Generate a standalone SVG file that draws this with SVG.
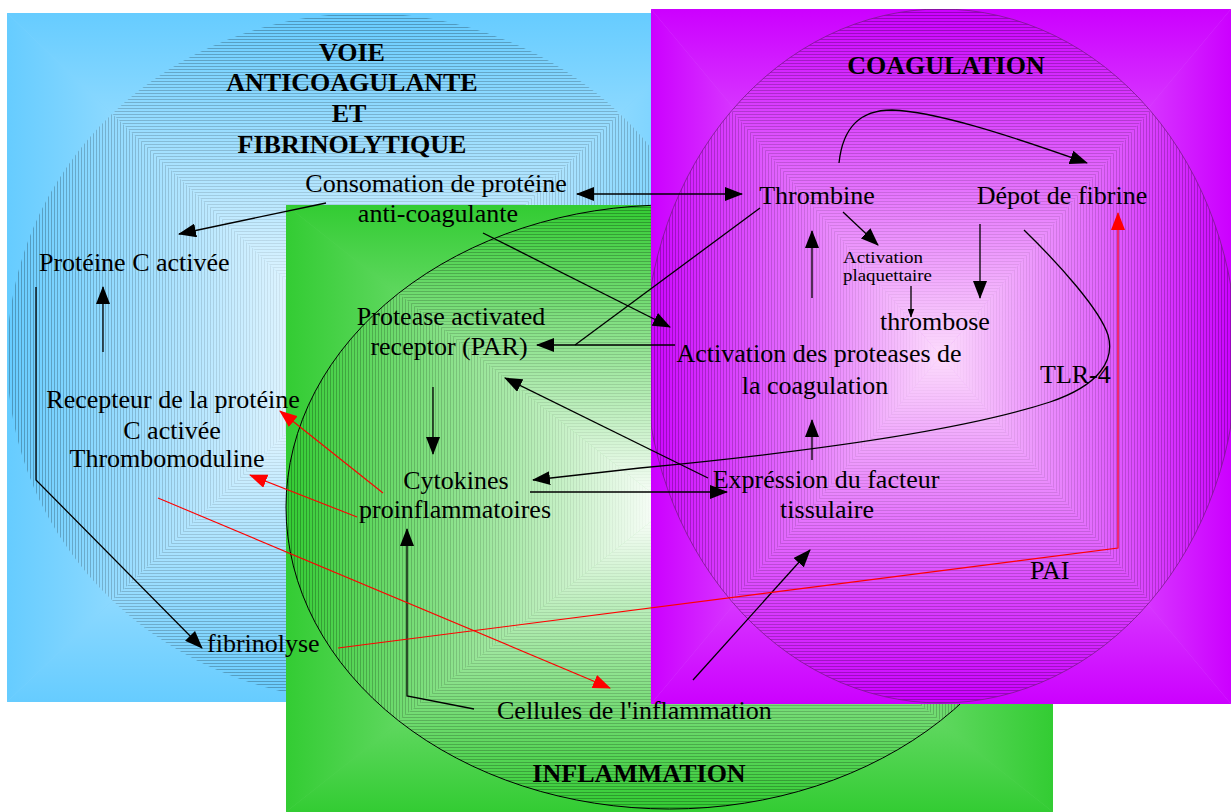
<svg xmlns="http://www.w3.org/2000/svg" width="1231" height="812" viewBox="0 0 1231 812">
<style>
text{font-family:"Liberation Serif","Times New Roman",serif;font-size:26px;fill:#000}
.t{font-weight:bold}
.c{text-anchor:middle}
.sm{font-size:16.5px}
.k{fill:none;stroke:#000;stroke-width:1.3}
.r{fill:none;stroke:#ff0000;stroke-width:1.1}
</style>
<defs>
<marker id="ab" markerUnits="userSpaceOnUse" markerWidth="18" markerHeight="14" viewBox="0 0 18 14" refX="17" refY="7" orient="auto-start-reverse"><path d="M0,0 L18,7 L0,14 Z" fill="#000"/></marker>
<marker id="ar" markerUnits="userSpaceOnUse" markerWidth="18" markerHeight="14" viewBox="0 0 18 14" refX="17" refY="7" orient="auto"><path d="M0,0 L18,7 L0,14 Z" fill="#ff0000"/></marker>
<marker id="as" markerUnits="userSpaceOnUse" markerWidth="9" markerHeight="7" viewBox="0 0 9 7" refX="8.5" refY="3.5" orient="auto"><path d="M0,0 L9,3.5 L0,7 Z" fill="#000"/></marker>

<linearGradient id="bRV" x1="0" y1="0" x2="0" y2="1"><stop offset="0" stop-color="#66ccff"/><stop offset="0.5" stop-color="#e6f7ff"/><stop offset="1" stop-color="#66ccff"/></linearGradient>
<linearGradient id="bRH" x1="0" y1="0" x2="1" y2="0"><stop offset="0" stop-color="#66ccff"/><stop offset="0.5" stop-color="#e6f7ff"/><stop offset="1" stop-color="#66ccff"/></linearGradient>
<linearGradient id="bEV" x1="0" y1="0" x2="0" y2="1"><stop offset="0" stop-color="#66ccff"/><stop offset="0.5" stop-color="#ffffff"/><stop offset="1" stop-color="#66ccff"/></linearGradient>
<linearGradient id="bEH" x1="0" y1="0" x2="1" y2="0"><stop offset="0" stop-color="#66ccff"/><stop offset="0.5" stop-color="#ffffff"/><stop offset="1" stop-color="#66ccff"/></linearGradient>

<linearGradient id="gRV" x1="0" y1="0" x2="0" y2="1"><stop offset="0" stop-color="#33cc33"/><stop offset="0.5" stop-color="#c8f3c8"/><stop offset="1" stop-color="#33cc33"/></linearGradient>
<linearGradient id="gRH" x1="0" y1="0" x2="1" y2="0"><stop offset="0" stop-color="#33cc33"/><stop offset="0.5" stop-color="#c8f3c8"/><stop offset="1" stop-color="#33cc33"/></linearGradient>
<linearGradient id="gEV" x1="0" y1="0" x2="0" y2="1"><stop offset="0" stop-color="#33cc33"/><stop offset="0.5" stop-color="#ffffff"/><stop offset="1" stop-color="#33cc33"/></linearGradient>
<linearGradient id="gEH" x1="0" y1="0" x2="1" y2="0"><stop offset="0" stop-color="#33cc33"/><stop offset="0.5" stop-color="#ffffff"/><stop offset="1" stop-color="#33cc33"/></linearGradient>

<linearGradient id="mRV" x1="0" y1="0" x2="0" y2="1"><stop offset="0" stop-color="#cc00ff"/><stop offset="0.5" stop-color="#f2b8ff"/><stop offset="1" stop-color="#cc00ff"/></linearGradient>
<linearGradient id="mRH" x1="0" y1="0" x2="1" y2="0"><stop offset="0" stop-color="#cc00ff"/><stop offset="0.5" stop-color="#f2b8ff"/><stop offset="1" stop-color="#cc00ff"/></linearGradient>
<linearGradient id="mEV" x1="0" y1="0" x2="0" y2="1"><stop offset="0" stop-color="#cc00ff"/><stop offset="0.5" stop-color="#fcdcfc"/><stop offset="1" stop-color="#cc00ff"/></linearGradient>
<linearGradient id="mEH" x1="0" y1="0" x2="1" y2="0"><stop offset="0" stop-color="#cc00ff"/><stop offset="0.5" stop-color="#fcdcfc"/><stop offset="1" stop-color="#cc00ff"/></linearGradient>

<linearGradient id="kV" x1="0" y1="0" x2="0" y2="1"><stop offset="0" stop-color="#fff"/><stop offset="0.5" stop-color="#000"/><stop offset="1" stop-color="#fff"/></linearGradient>
<linearGradient id="kH" x1="0" y1="0" x2="1" y2="0"><stop offset="0" stop-color="#fff"/><stop offset="0.5" stop-color="#000"/><stop offset="1" stop-color="#fff"/></linearGradient>

<pattern id="hh" patternUnits="userSpaceOnUse" width="10" height="3"><rect width="10" height="1" fill="#000" opacity="0.26"/></pattern>
<pattern id="hv" patternUnits="userSpaceOnUse" width="3" height="10"><rect width="1" height="10" fill="#000" opacity="0.26"/></pattern>

<clipPath id="cBE"><ellipse cx="366" cy="357" rx="359" ry="344"/></clipPath>
<clipPath id="cGE"><ellipse cx="669.5" cy="507" rx="383.5" ry="302"/></clipPath>
<clipPath id="cME"><ellipse cx="941" cy="356" rx="296" ry="347"/></clipPath>
<clipPath id="cMR"><rect x="651" y="9" width="580" height="695"/></clipPath>

<mask id="mkB" maskUnits="userSpaceOnUse" x="0" y="0" width="1231" height="812">
<path d="M7,13 L725,13 L366,357 Z M7,701 L725,701 L366,357 Z" fill="url(#kV)"/>
<path d="M7,13 L7,701 L366,357 Z M725,13 L725,701 L366,357 Z" fill="url(#kH)"/>
</mask>
<mask id="mkG" maskUnits="userSpaceOnUse" x="0" y="0" width="1231" height="812">
<path d="M286,205 L1053,205 L669.5,507 Z M286,809 L1053,809 L669.5,507 Z" fill="url(#kV)"/>
<path d="M286,205 L286,809 L669.5,507 Z M1053,205 L1053,809 L669.5,507 Z" fill="url(#kH)"/>
</mask>
<mask id="mkM" maskUnits="userSpaceOnUse" x="0" y="0" width="1231" height="812">
<path d="M645,9 L1237,9 L941,356 Z M645,703 L1237,703 L941,356 Z" fill="url(#kV)"/>
<path d="M645,9 L645,703 L941,356 Z M1237,9 L1237,703 L941,356 Z" fill="url(#kH)"/>
</mask>
</defs>

<rect width="1231" height="812" fill="#ffffff"/>

<g id="region-anticoagulante">
<rect x="7" y="13" width="718" height="689" fill="#7fd3ff"/>
<path d="M7,13 L725,13 L366,357.5 Z M7,702 L725,702 L366,357.5 Z" fill="url(#bRV)"/>
<path d="M7,13 L7,702 L366,357.5 Z M725,13 L725,702 L366,357.5 Z" fill="url(#bRH)"/>
<g clip-path="url(#cBE)">
<path d="M7,13 L725,13 L366,357 Z M7,701 L725,701 L366,357 Z" fill="url(#bEV)"/>
<path d="M7,13 L7,701 L366,357 Z M725,13 L725,701 L366,357 Z" fill="url(#bEH)"/>
<g mask="url(#mkB)">
<path d="M7,13 L725,13 L366,357 Z M7,701 L725,701 L366,357 Z" fill="url(#hh)"/>
<path d="M7,13 L7,701 L366,357 Z M725,13 L725,701 L366,357 Z" fill="url(#hv)"/>
</g>
</g>
</g>

<g id="region-inflammation">
<rect x="286" y="205" width="767" height="607" fill="#55d455"/>
<path d="M286,205 L1053,205 L669.5,508.5 Z M286,812 L1053,812 L669.5,508.5 Z" fill="url(#gRV)"/>
<path d="M286,205 L286,812 L669.5,508.5 Z M1053,205 L1053,812 L669.5,508.5 Z" fill="url(#gRH)"/>
<g clip-path="url(#cGE)">
<path d="M286,205 L1053,205 L669.5,507 Z M286,809 L1053,809 L669.5,507 Z" fill="url(#gEV)"/>
<path d="M286,205 L286,809 L669.5,507 Z M1053,205 L1053,809 L669.5,507 Z" fill="url(#gEH)"/>
<g mask="url(#mkG)">
<path d="M286,205 L1053,205 L669.5,507 Z M286,809 L1053,809 L669.5,507 Z" fill="url(#hh)"/>
<path d="M286,205 L286,809 L669.5,507 Z M1053,205 L1053,809 L669.5,507 Z" fill="url(#hv)"/>
</g>
</g>
<ellipse cx="669.5" cy="507" rx="383.5" ry="302" fill="none" stroke="#000" stroke-width="1"/>
</g>

<g id="region-coagulation">
<rect x="651" y="9" width="580" height="695" fill="#d84cff"/>
<path d="M651,9 L1231,9 L941,356.5 Z M651,704 L1231,704 L941,356.5 Z" fill="url(#mRV)"/>
<path d="M651,9 L651,704 L941,356.5 Z M1231,9 L1231,704 L941,356.5 Z" fill="url(#mRH)"/>
<g clip-path="url(#cMR)">
<g clip-path="url(#cME)">
<path d="M645,9 L1237,9 L941,356 Z M645,703 L1237,703 L941,356 Z" fill="url(#mEV)"/>
<path d="M645,9 L645,703 L941,356 Z M1237,9 L1237,703 L941,356 Z" fill="url(#mEH)"/>
<g mask="url(#mkM)">
<path d="M645,9 L1237,9 L941,356 Z M645,703 L1237,703 L941,356 Z" fill="url(#hh)"/>
<path d="M645,9 L645,703 L941,356 Z M1237,9 L1237,703 L941,356 Z" fill="url(#hv)"/>
</g>
</g>
<ellipse cx="941" cy="356" rx="296" ry="347" fill="none" stroke="#7a1a8a" stroke-width="0.8"/>
</g>
</g>

<g id="connectors">
<line class="k" x1="577" y1="194" x2="742" y2="194" marker-start="url(#ab)" marker-end="url(#ab)"/>
<line class="k" x1="326" y1="203" x2="179" y2="234" marker-end="url(#ab)"/>
<line class="k" x1="483" y1="233" x2="670" y2="327" marker-end="url(#ab)"/>
<line class="k" x1="675" y1="345" x2="537" y2="345" marker-end="url(#ab)"/>
<line class="k" x1="760" y1="208" x2="575" y2="345"/>
<line class="k" x1="708" y1="478" x2="505" y2="378" marker-end="url(#ab)"/>
<line class="k" x1="433" y1="387" x2="433" y2="454" marker-end="url(#ab)"/>
<line class="k" x1="530" y1="492" x2="727" y2="492" marker-end="url(#ab)"/>
<path class="k" d="M1024,230 C1060,265 1100,310 1108,335 C1115,360 1100,385 1050,402 C980,425 850,448 640,468 L533,480" marker-end="url(#ab)"/>
<path class="k" d="M839,163 C843,125 862,110 892,110 C935,112 1000,132 1087,163" marker-end="url(#ab)"/>
<line class="k" x1="843" y1="212" x2="878" y2="245" marker-end="url(#ab)"/>
<line class="k" x1="911" y1="286" x2="911" y2="317" stroke-width="1" marker-end="url(#as)"/>
<line class="k" x1="980" y1="224" x2="980" y2="298" marker-end="url(#ab)"/>
<line class="k" x1="812" y1="298" x2="812" y2="231" stroke="#3a1a40" marker-end="url(#ab)"/>
<line class="k" x1="812" y1="460" x2="812" y2="420" stroke="#3a1a40" marker-end="url(#ab)"/>
<line class="k" x1="693" y1="680" x2="810" y2="550" marker-end="url(#ab)"/>
<polyline class="k" points="474,709 407,696 407,529" marker-end="url(#ab)"/>
<polyline class="k" points="36,287 36,480 202,648" marker-end="url(#ab)"/>
<line class="k" x1="103" y1="352" x2="103" y2="287" marker-end="url(#ab)"/>
<line class="r" x1="383" y1="493" x2="280" y2="411" marker-end="url(#ar)"/>
<line class="r" x1="357" y1="517" x2="250" y2="475" marker-end="url(#ar)"/>
<line class="r" x1="158" y1="498" x2="610" y2="688" marker-end="url(#ar)"/>
<polyline class="r" points="338,648 1118,548 1118,213" marker-end="url(#ar)"/>
</g>

<g id="title-anticoagulante">
<text class="t c" x="352" y="61">VOIE</text>
<text class="t c" x="352" y="91">ANTICOAGULANTE</text>
<text class="t c" x="349" y="122">ET</text>
<text class="t c" x="352" y="153">FIBRINOLYTIQUE</text>
</g>
<g id="title-coagulation"><text class="t c" x="946" y="74">COAGULATION</text></g>
<g id="title-inflammation"><text class="t c" x="639" y="782">INFLAMMATION</text></g>

<g id="n-consomation"><text class="c" x="436" y="192">Consomation de protéine</text><text class="c" x="438" y="222">anti-coagulante</text></g>
<g id="n-proteinec"><text x="39" y="271">Protéine C activée</text></g>
<g id="n-thrombine"><text class="c" x="817" y="204">Thrombine</text></g>
<g id="n-depot"><text class="c" x="1062" y="204">Dépot de fibrine</text></g>
<g id="n-plaquettaire"><text class="sm" x="843" y="262.5" textLength="80" lengthAdjust="spacingAndGlyphs">Activation</text><text class="sm" x="843" y="281" textLength="89" lengthAdjust="spacingAndGlyphs">plaquettaire</text></g>
<g id="n-thrombose"><text class="c" x="935" y="330">thrombose</text></g>
<g id="n-activation"><text class="c" x="819" y="362">Activation des proteases de</text><text class="c" x="815" y="394">la coagulation</text></g>
<g id="n-tlr4"><text x="1040" y="383">TLR-4</text></g>
<g id="n-par"><text class="c" x="451" y="325">Protease activated</text><text class="c" x="449" y="355">receptor (PAR)</text></g>
<g id="n-recepteur"><text class="c" x="173" y="408">Recepteur de la protéine</text><text class="c" x="172" y="439">C activée</text><text class="c" x="167" y="467">Thrombomoduline</text></g>
<g id="n-cytokines"><text class="c" x="456" y="489">Cytokines</text><text class="c" x="455" y="518">proinflammatoires</text></g>
<g id="n-fibrinolyse"><text x="207" y="652">fibrinolyse</text></g>
<g id="n-cellules"><text x="497" y="719">Cellules de l'inflammation</text></g>
<g id="n-expression"><text class="c" x="826" y="488">Expréssion du facteur</text><text class="c" x="827" y="518">tissulaire</text></g>
<g id="n-pai"><text x="1030" y="579">PAI</text></g>
</svg>
